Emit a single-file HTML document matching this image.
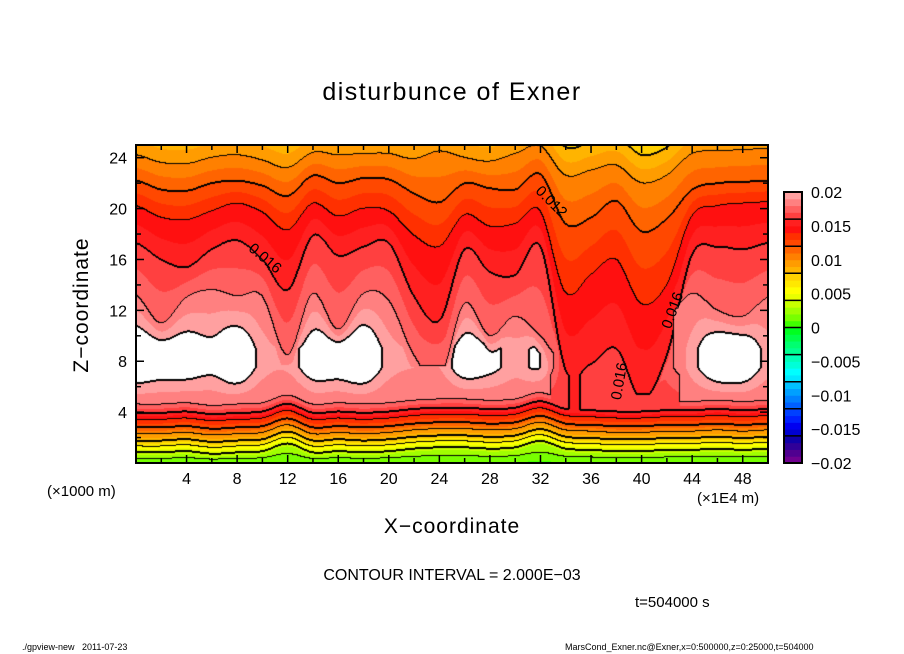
<!DOCTYPE html>
<html><head><meta charset="utf-8">
<style>
body{margin:0;background:#fff;width:904px;height:654px;overflow:hidden;position:relative;font-family:"Liberation Sans",sans-serif;}
.t{position:absolute;color:#000;white-space:nowrap;}
</style></head><body>
<div class="t" style="left:0;width:904px;text-align:center;top:78px;font-size:25px;letter-spacing:1.5px;">disturbunce of Exner</div>
<canvas id="cv" width="632" height="318" style="position:absolute;left:136px;top:145px;"></canvas>
<svg id="ax" width="904" height="654" style="position:absolute;left:0;top:0;"></svg>
<div class="t" style="left:-2px;top:292px;width:170px;text-align:center;font-size:21px;transform:rotate(-90deg);transform-origin:85px 13px;letter-spacing:1px;">Z−coordinate</div>
<div class="t" style="left:0;width:904px;text-align:center;top:515px;font-size:21px;letter-spacing:1px;">X−coordinate</div>
<div class="t" style="left:47px;top:483px;font-size:15px;">(×1000 m)</div>
<div class="t" style="left:697px;top:490px;font-size:15px;">(×1E4 m)</div>
<div class="t" style="left:0;width:904px;text-align:center;top:567px;font-size:16px;">CONTOUR INTERVAL = 2.000E−03</div>
<div class="t" style="left:635px;top:594px;font-size:15px;">t=504000 s</div>
<div class="t" style="left:22px;top:642px;font-size:9px;">./gpview-new&nbsp;&nbsp;&nbsp;2011-07-23</div>
<div class="t" style="left:565px;top:642px;font-size:9px;">MarsCond_Exner.nc@Exner,x=0:500000,z=0:25000,t=504000</div>
<script>
const colX=[0,2,4,6,8,10,12,14,16,18,20,22,24,26,28,30,32,34,36,38,40,42,44,46,48,50];
const h10=[24.2,23.6,23.5,24.0,24.2,23.8,23.2,24.4,24.2,24.3,24.3,23.9,24.5,24.0,23.7,24.3,24.9,22.6,23.0,23.4,22.0,22.6,24.3,24.5,24.6,24.7];
const h12=[22.2,21.5,21.4,22.0,22.2,21.8,21.0,22.6,22.0,22.4,22.3,21.2,20.5,22.0,21.6,21.5,22.7,18.8,19.3,20.6,18.2,19.2,21.5,22.0,22.1,22.2];
const h14=[20.2,19.3,19.1,19.8,20.4,19.7,18.3,20.4,19.4,20.0,19.8,17.9,17.0,19.5,18.6,18.8,19.8,13.4,14.8,16.0,12.5,14.0,19.4,20.2,20.4,20.5];
const h16=[17.3,16.0,15.4,16.8,17.5,16.0,13.6,17.9,16.3,17.0,17.3,13.1,11.2,16.8,15.0,14.8,17.0,7.3,7.8,9.0,5.0,8.5,16.4,17.0,16.8,17.3];
const h18=[13.2,11.0,13.0,13.6,13.1,13.1,8.5,13.3,10.5,13.3,12.8,8.5,6.5,12.5,10.0,11.5,10.0,7.5,7.5,7.5,7.5,11.0,13.3,12.0,11.5,13.0];
const vpk=[0.0215,0.021,0.021,0.0205,0.0215,0.0195,0.0192,0.021,0.021,0.0215,0.0195,0.019,0.019,0.021,0.0205,0.0195,0.020,0.0162,0.0163,0.017,0.0162,0.0175,0.0195,0.0215,0.0215,0.0195];
const lowOff=[0,0,0.1,-0.1,0,0.1,0.7,0,0.1,0,0.1,0.3,0.4,0.4,0.3,0.4,0.9,0.3,0.2,0.1,0.1,0.2,0.2,0.3,0.2,0.3];
const cbTicks=[0.02,0.015,0.01,0.005,0,-0.005,-0.01,-0.015,-0.02];
const cbLabels=["0.02","0.015","0.01","0.005","0","−0.005","−0.01","−0.015","−0.02"];
const xTicks=[4,8,12,16,20,24,28,32,36,40,44,48];
const zTicks=[4,8,12,16,20,24];
const palette=["#700090","#500090","#300098","#1000a8","#0000d0","#0000f0","#0020ff","#0040ff","#0060ff","#0080ff","#00a0ff","#00c0ff","#00e8ff","#00ffff","#00ffd8","#00ffb8","#00ff90","#00ff70","#00ff48","#00ff20","#40ff00","#78ff00","#a0ff00","#c8ff00","#e8ff00","#ffff00","#ffe800","#ffd000","#ffb400","#ff9c00","#ff8000","#ff6400","#ff4800","#ff3000","#ff1010","#ff2020","#ff4040","#ff6060","#ff8080","#ffa0a0"];

const L=136,T=145,W=632,H=318;
const sx=x=>L+x/50*W, sz=z=>T+H-z/25*H;
function lerpArr(a,x){
  const n=colX.length;let i=Math.min(n-2,Math.max(0,Math.floor(x/2)));const t=(x-colX[i])/2;
  const p0=a[Math.max(0,i-1)],p1=a[i],p2=a[i+1],p3=a[Math.min(n-1,i+2)];
  return 0.5*((2*p1)+(-p0+p2)*t+(2*p0-5*p1+4*p2-p3)*t*t+(-p0+3*p1-3*p2+p3)*t*t*t);
}
function profile(x){
  const o=lerpArr(lowOff,x),v=lerpArr(vpk,x),a16=lerpArr(h16,x),a18=lerpArr(h18,x),a14=lerpArr(h14,x),a12=lerpArr(h12,x),a10=lerpArr(h10,x);
  let k=[[0,0.0008],[0.6+o,0.003],[1.3+o,0.006],[2.0+o,0.009],[2.8+o,0.012],[3.4+o,0.014],[3.95+o,0.016]];
  if(v>0.0185)k.push([4.6+o,0.018]);
  const zp=Math.max(5.2+o,Math.min(7.5,a16-0.6));
  k.push([zp,v]);
  const zp2=Math.max(zp,Math.min(9,v>0.018?a18-1.5:a16-1));
  k.push([zp2,v]);
  if(v>0.018)k.push([a18,0.018]);
  k.push([a16,0.016],[a14,0.014],[a12,0.012],[a10,0.010]);
  const top=Math.max(0.0068,0.010-0.0009*(25-a10));
  k.push([25.01,top]);
  for(let i=1;i<k.length;i++)if(k[i][0]<k[i-1][0]+0.05)k[i][0]=k[i-1][0]+0.05;
  return k;
}
function val(k,z){for(let i=1;i<k.length;i++){if(z<=k[i][0]){const f=(z-k[i-1][0])/(k[i][0]-k[i-1][0]);return k[i-1][1]*(1-f)+k[i][1]*f;}}return k[k.length-1][1];}
const cv=document.getElementById('cv'),ctx=cv.getContext('2d');
const img=ctx.createImageData(W,H);
const V=new Float32Array(W*H);
for(let px=0;px<W;px++){const x=(px+0.5)/W*50;const k=profile(x);
  for(let py=0;py<H;py++){const z=(H-py-0.5)/H*25;V[py*W+px]=val(k,z);}}
function hex(c){return [parseInt(c.substr(1,2),16),parseInt(c.substr(3,2),16),parseInt(c.substr(5,2),16)];}
const pal=palette.map(hex);
const black=new Uint8Array(W*H);
const lev=v=>Math.floor(v/0.002+1e-9);
for(let py=0;py<H;py++)for(let px=0;px<W;px++){
  const i=py*W+px,a=lev(V[i]);
  const chk=(j)=>{const b=lev(V[j]);if(a!==b){black[i]=1;const m=Math.max(a,b);if(m%2===0){black[j]=1;}}};
  if(px<W-1)chk(i+1);if(py<H-1)chk(i+W);
}
for(let i=0;i<W*H;i++){const v=V[i];let c;
  if(black[i])c=[0,0,0];else if(v>=0.02)c=[255,255,255];else{let b=Math.floor((v+0.02)/0.001);b=Math.max(0,Math.min(39,b));c=pal[b];}
  img.data[i*4]=c[0];img.data[i*4+1]=c[1];img.data[i*4+2]=c[2];img.data[i*4+3]=255;}
ctx.putImageData(img,0,0);

const svg=document.getElementById('ax');const NS="http://www.w3.org/2000/svg";
function el(t,a){const e=document.createElementNS(NS,t);for(const k in a)e.setAttribute(k,a[k]);svg.appendChild(e);return e;}
let fr=el('rect',{x:L,y:T,width:W,height:H,fill:'none',stroke:'#000','stroke-width':2});


for(let x=2;x<50;x+=2){const len=x%4===0?8:5;
  el('line',{x1:sx(x),x2:sx(x),y1:T+H,y2:T+H-len,stroke:'#000','stroke-width':1.5});
  el('line',{x1:sx(x),x2:sx(x),y1:T,y2:T+len,stroke:'#000','stroke-width':1.5});}
for(let z=2;z<25;z+=2){const len=z%4===0?8:5;
  el('line',{x1:L,x2:L+len,y1:sz(z),y2:sz(z),stroke:'#000','stroke-width':1.5});
  el('line',{x1:L+W,x2:L+W-len,y1:sz(z),y2:sz(z),stroke:'#000','stroke-width':1.5});}
xTicks.forEach(x=>{const t=el('text',{x:sx(x),y:484,'font-size':16,'text-anchor':'middle','font-family':'Liberation Sans'});t.textContent=x;
  
  });
zTicks.forEach(z=>{const t=el('text',{x:127,y:sz(z)+6,'font-size':16,'text-anchor':'end','font-family':'Liberation Sans'});t.textContent=z;
  
  });
const cbX=784,cbW=18,cbTop=192,cbBot=463;
const cy=v=>cbBot-(v+0.02)/0.04*(cbBot-cbTop);
palette.forEach((c,i)=>{const v0=-0.02+i*0.001;const r=el('rect',{x:cbX,y:cy(v0+0.001),width:cbW,height:cy(v0)-cy(v0+0.001)+0.5,fill:c});
  
  });
for(let s=0;s<=10;s++){const v=-0.02+s*0.004;el('line',{x1:cbX,x2:cbX+cbW,y1:cy(v),y2:cy(v),stroke:'#000','stroke-width':1.5});}
el('rect',{x:cbX,y:cbTop,width:cbW,height:cbBot-cbTop,fill:'none',stroke:'#000','stroke-width':2});
cbTicks.forEach((v,i)=>{const t=el('text',{x:811,y:cy(v)+6,'font-size':16,'font-family':'Liberation Sans'});t.textContent=cbLabels[i];
  
  });
[[262,262,40,'0.016'],[548,205,45,'0.012'],[677,312,-70,'0.016'],[624,382,-80,'0.016']].forEach(p=>{
  const t=el('text',{x:p[0],y:p[1],'font-size':15,'text-anchor':'middle','font-family':'Liberation Sans',transform:`rotate(${p[2]} ${p[0]} ${p[1]})`});t.textContent=p[3];
  
  });
</script>
</body></html>
